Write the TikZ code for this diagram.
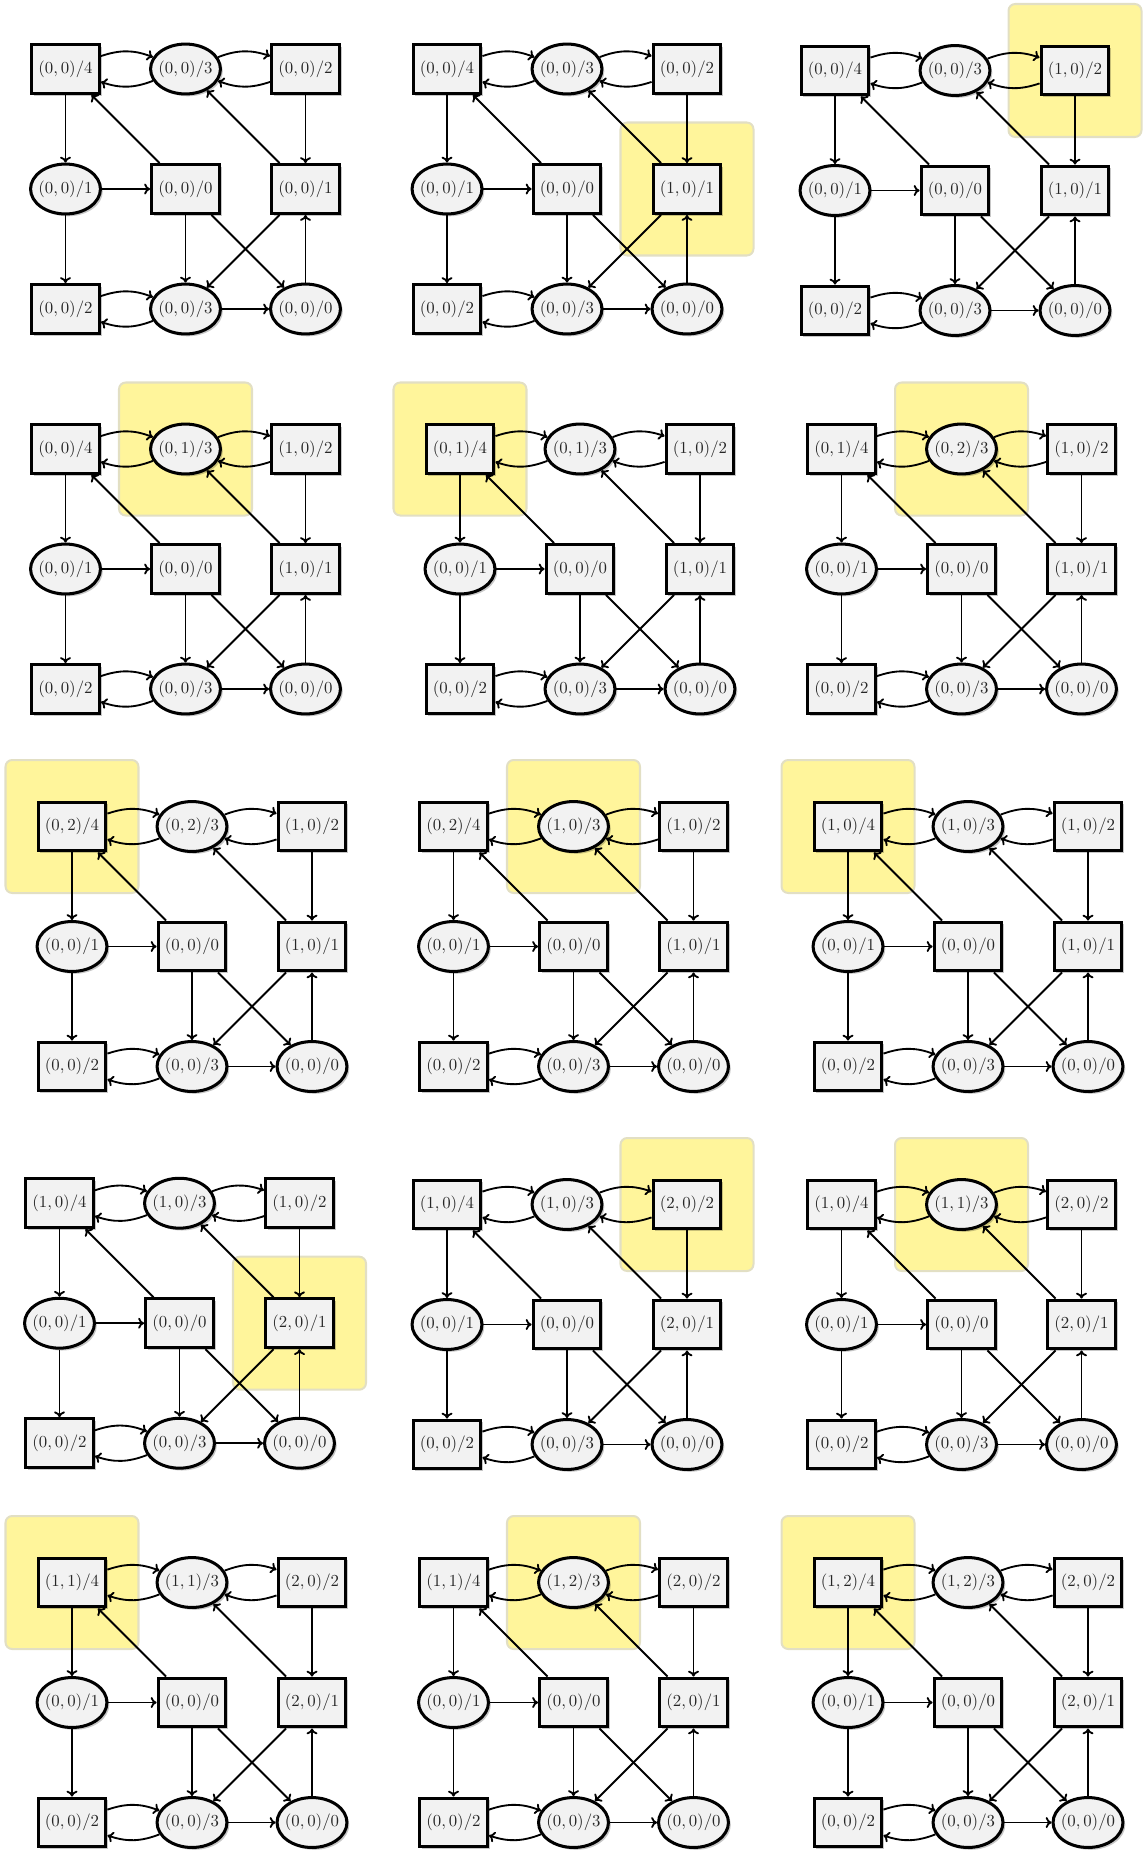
\documentclass[tikz,border=0pt]{standalone}
\usetikzlibrary{shapes.geometric,arrows.meta,shadows,backgrounds,calc}
\definecolor{hlfill}{RGB}{255,245,155}
\definecolor{hldraw}{RGB}{226,223,196}
\definecolor{nodefill}{RGB}{242,242,242}
\tikzset{
  gbase/.style={draw=black, line width=1.8pt, fill=nodefill, text=black!85, inner sep=0pt,
    drop shadow={shadow xshift=1.4pt, shadow yshift=-1.4pt, opacity=0.22, fill=black}},
  rbox/.style={gbase, rectangle, minimum width=40.4pt, minimum height=29.1pt},
  ebox/.style={gbase, ellipse, minimum width=41.6pt, minimum height=29.7pt},
  edge/.style={line width=1.1pt, -{To[length=3.5pt,width=6.5pt]}},
  hlbox/.style={fill=hlfill, draw=hldraw, line width=1.2pt, rounded corners=4pt},
}
\newcommand\lb[1]{\makebox[0pt]{$#1$}}
% #1 name, #2 x, #3 y (px, downward), #4 A, #5 B, #6 C, #7 F, #8 highlighted node letter
\newcommand\panel[8]{%
  \node[rbox] (#1a) at (#2,-#3) {\lb{(#4)/4}};
  \node[ebox] (#1b) at (#2+120,-#3) {\lb{(#5)/3}};
  \node[rbox] (#1c) at (#2+240,-#3) {\lb{(#6)/2}};
  \node[ebox] (#1d) at (#2,-#3-120) {\lb{(0,0)/1}};
  \node[rbox] (#1e) at (#2+120,-#3-120) {\lb{(0,0)/0}};
  \node[rbox] (#1f) at (#2+240,-#3-120) {\lb{(#7)/1}};
  \node[rbox] (#1g) at (#2,-#3-240) {\lb{(0,0)/2}};
  \node[ebox] (#1h) at (#2+120,-#3-240) {\lb{(0,0)/3}};
  \node[ebox] (#1i) at (#2+240,-#3-240) {\lb{(0,0)/0}};
  \draw[edge] (#1a) to[bend left=20] (#1b);
  \draw[edge] (#1b) to[bend left=20] (#1a);
  \draw[edge] (#1b) to[bend left=20] (#1c);
  \draw[edge] (#1c) to[bend left=20] (#1b);
  \draw[edge] (#1a) -- (#1d);
  \draw[edge] (#1d) -- (#1g);
  \draw[edge] (#1d) -- (#1e);
  \draw[edge] (#1e) -- (#1a);
  \draw[edge] (#1e) -- (#1h);
  \draw[edge] (#1e) -- (#1i);
  \draw[edge] (#1f) -- (#1b);
  \draw[edge] (#1c) -- (#1f);
  \draw[edge] (#1f) -- (#1h);
  \draw[edge] (#1i) -- (#1f);
  \draw[edge] (#1g) to[bend left=20] (#1h);
  \draw[edge] (#1h) to[bend left=20] (#1g);
  \draw[edge] (#1h) -- (#1i);
  \ifx\relax#8\relax\else
  \begin{pgfonlayer}{background}
    \draw[hlbox] ($(#1#8)+(-66.5,-66.5)$) rectangle ($(#1#8)+(66.5,66.5)$);
  \end{pgfonlayer}
  \fi
}
\begin{document}
\begin{tikzpicture}[x=0.5952pt,y=0.5952pt]
  \useasboundingbox (0,0) rectangle (1142,-1851);
  \panel{pA}{65.5}{69}{0,0}{0,0}{0,0}{0,0}{}
  \panel{pB}{447}{69}{0,0}{0,0}{0,0}{1,0}{f}
  \panel{pC}{835}{70.5}{0,0}{0,0}{1,0}{1,0}{c}
  \panel{pD}{65.5}{449}{0,0}{0,1}{1,0}{1,0}{b}
  \panel{pE}{460}{449}{0,1}{0,1}{1,0}{1,0}{a}
  \panel{pF}{841.5}{449}{0,1}{0,2}{1,0}{1,0}{b}
  \panel{pG}{72}{826.5}{0,2}{0,2}{1,0}{1,0}{a}
  \panel{pH}{453.5}{826.5}{0,2}{1,0}{1,0}{1,0}{b}
  \panel{pI}{848}{826.5}{1,0}{1,0}{1,0}{1,0}{a}
  \panel{pJ}{59.5}{1203.2}{1,0}{1,0}{1,0}{2,0}{f}
  \panel{pK}{447}{1204.5}{1,0}{1,0}{2,0}{2,0}{c}
  \panel{pL}{841.5}{1204.5}{1,0}{1,1}{2,0}{2,0}{b}
  \panel{pM}{72}{1582.5}{1,1}{1,1}{2,0}{2,0}{a}
  \panel{pN}{453.5}{1582.5}{1,1}{1,2}{2,0}{2,0}{b}
  \panel{pO}{848}{1582.5}{1,2}{1,2}{2,0}{2,0}{a}
\end{tikzpicture}
\end{document}
